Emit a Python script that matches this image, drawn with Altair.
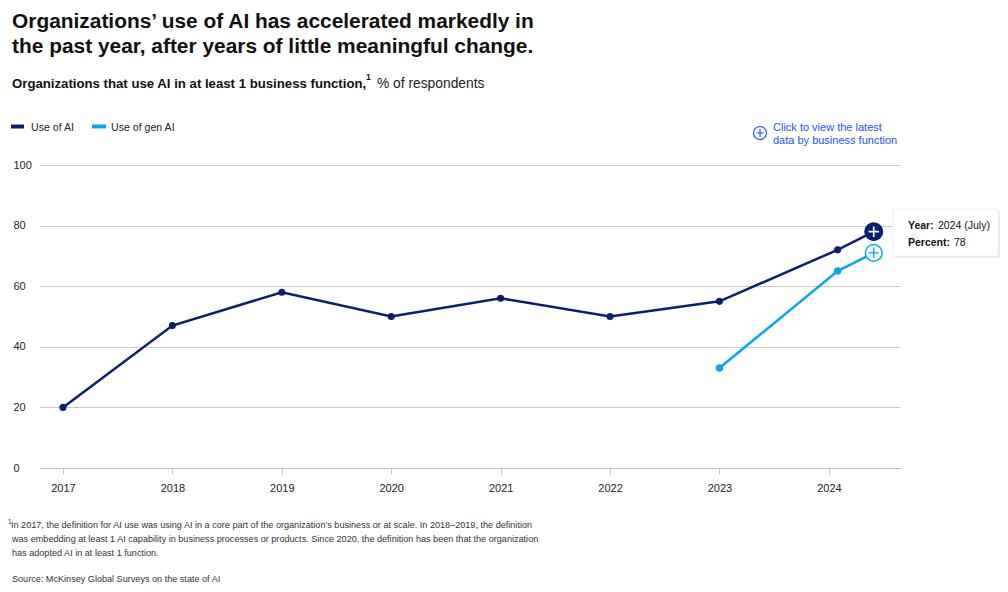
import altair as alt
import pandas as pd

# ---- data ----
years_ai = [2017, 2018, 2019, 2020, 2021, 2022, 2023, 2024.08, 2024.41]
use_ai = [20, 47, 58, 50, 56, 50, 55, 72, 78]
years_gen = [2023, 2024.08, 2024.41]
use_gen = [33, 65, 71]
tick_years = [2017, 2018, 2019, 2020, 2021, 2022, 2023, 2024]
y_ticks = [0, 20, 40, 60, 80, 100]

NAVY = "#0b1f70"
CYAN = "#00a9f4"
LINK = "#2251ff"
FONT = "Liberation Sans"
W, H = 860, 303

df_ai = pd.DataFrame({"year": years_ai, "pct": use_ai, "series": "Use of AI"})
df_gen = pd.DataFrame({"year": years_gen, "pct": use_gen, "series": "Use of gen AI"})

xs = alt.Scale(domain=[2016.79, 2024.65], nice=False, zero=False)
ys = alt.Scale(domain=[0, 100], nice=False)

x_enc = alt.X("year:Q", scale=xs, axis=alt.Axis(
    values=tick_years, format="d", title=None, grid=False,
    tickSize=6, tickColor="#c8c8c8", domainColor="#bdbdbd", domainWidth=1.2,
    labelFont=FONT, labelFontSize=11, labelColor="#222", labelPadding=8))
y_enc = alt.Y("pct:Q", scale=ys, axis=alt.Axis(
    values=y_ticks, title=None, domain=False, ticks=False, tickSize=0,
    gridColor="#c8c8c8", labelAlign="left", labelPadding=27,
    labelFont=FONT, labelFontSize=11, labelColor="#222"))

base_ai = alt.Chart(df_ai)
line_ai = base_ai.mark_line(color=NAVY, strokeWidth=2.5).encode(x=x_enc, y=y_enc)
pts_ai = alt.Chart(df_ai.iloc[:-1]).mark_circle(color=NAVY, size=50, opacity=1).encode(x="year:Q", y="pct:Q")
big_ai = alt.Chart(df_ai.iloc[-1:]).mark_circle(color=NAVY, size=360, opacity=1).encode(x="year:Q", y="pct:Q")
plus_ai = alt.Chart(df_ai.iloc[-1:]).mark_point(
    shape="M-1,0L1,0M0,-1L0,1", filled=False, stroke="white", strokeWidth=1.6, size=110, opacity=1
).encode(x="year:Q", y="pct:Q")

base_gen = alt.Chart(df_gen)
line_gen = base_gen.mark_line(color=CYAN, strokeWidth=2.5).encode(x="year:Q", y="pct:Q")
pts_gen = alt.Chart(df_gen.iloc[:-1]).mark_circle(color=CYAN, size=55, opacity=1).encode(x="year:Q", y="pct:Q")
big_gen = alt.Chart(df_gen.iloc[-1:]).mark_point(
    shape="circle", filled=True, fill="white", stroke=CYAN, strokeWidth=1.5, size=280, opacity=1
).encode(x="year:Q", y="pct:Q")
plus_gen = alt.Chart(df_gen.iloc[-1:]).mark_point(
    shape="M-1,0L1,0M0,-1L0,1", filled=False, stroke=CYAN, strokeWidth=1.4, size=100, opacity=1
).encode(x="year:Q", y="pct:Q")

one = pd.DataFrame({"a": [0]})


def txt(s, x, y, size, weight="normal", color="#111", align="left", font=FONT):
    return alt.Chart(pd.DataFrame({"t": [s]})).mark_text(
        align=align, baseline="alphabetic", font=font, fontSize=size,
        fontWeight=weight, color=color
    ).encode(text="t:N", x=alt.value(x), y=alt.value(y))


def rect(x, x2, y, y2, color, stroke=None):
    kw = {}
    if stroke:
        kw["stroke"] = stroke
        kw["strokeWidth"] = 1
    return alt.Chart(one).mark_rect(color=color, **kw).encode(
        x=alt.value(x), x2=alt.value(x2), y=alt.value(y), y2=alt.value(y2))


OX, OY = 40, 165  # page origin of the plot area

def P(px, py):
    return px - OX, py - OY

layers = []
# title
layers.append(txt("Organizations’ use of AI has accelerated markedly in", *P(12, 28), 20.9, "bold"))
layers.append(txt("the past year, after years of little meaningful change.", *P(12, 53), 20.9, "bold"))
# subtitle
layers.append(txt("Organizations that use AI in at least 1 business function,", *P(12, 88), 13.2, "bold"))
layers.append(txt("1", *P(366, 80), 8.5, "bold"))
layers.append(txt("% of respondents", *P(377, 88), 13.8, "normal", "#222"))
# legend
layers.append(rect(P(11, 0)[0], P(24, 0)[0], P(0, 124.5)[1], P(0, 128.5)[1], NAVY))
layers.append(txt("Use of AI", *P(31, 131), 10.6, "normal", "#222"))
layers.append(rect(P(92, 0)[0], P(106, 0)[0], P(0, 124.5)[1], P(0, 128.5)[1], CYAN))
layers.append(txt("Use of gen AI", *P(111, 131), 10.6, "normal", "#222"))
# link
link_icon = alt.Chart(one).mark_point(shape="circle", filled=False, stroke=LINK, strokeWidth=1.2, size=170, opacity=1).encode(
    x=alt.value(P(760, 0)[0]), y=alt.value(P(0, 133)[1]))
link_plus = alt.Chart(one).mark_point(shape="M-1,0L1,0M0,-1L0,1", filled=False, stroke=LINK, strokeWidth=1.2, size=60, opacity=1).encode(
    x=alt.value(P(760, 0)[0]), y=alt.value(P(0, 133)[1]))
layers += [link_icon, link_plus]
layers.append(txt("Click to view the latest", *P(773, 131), 11, "normal", LINK))
layers.append(txt("data by business function", *P(773, 144), 11, "normal", LINK))
# tooltip
layers.append(rect(P(894, 0)[0], P(1000, 0)[0], P(0, 211)[1], P(0, 258)[1], "#ececec"))
layers.append(rect(P(893, 0)[0], P(998, 0)[0], P(0, 209)[1], P(0, 256)[1], "white", "#f0f0f0"))
pointer = alt.Chart(one).mark_point(shape="triangle-left", filled=True, fill="white", size=60, opacity=1).encode(
    x=alt.value(P(890, 0)[0]), y=alt.value(P(0, 232)[1]))
layers.append(pointer)
layers.append(txt("Year:", *P(908, 229), 10.5, "bold"))
layers.append(txt("2024 (July)", *P(938, 229), 10.5, "normal"))
layers.append(txt("Percent:", *P(908, 246), 10.5, "bold"))
layers.append(txt("78", *P(954, 246), 10.5, "normal"))
# footnote
FN = 9.1
layers.append(txt("1", *P(8, 524), 6.5, "normal", "#333"))
layers.append(txt("In 2017, the definition for AI use was using AI in a core part of the organization’s business or at scale. In 2018–2019, the definition", *P(11, 528), FN, "normal", "#333"))
layers.append(txt("was embedding at least 1 AI capability in business processes or products. Since 2020, the definition has been that the organization", *P(12, 542), FN, "normal", "#333"))
layers.append(txt("has adopted AI in at least 1 function.", *P(12, 556), FN, "normal", "#333"))
layers.append(txt("Source: McKinsey Global Surveys on the state of AI", *P(12, 582), FN, "normal", "#333"))

chart = alt.layer(
    line_ai, line_gen, pts_ai, pts_gen, big_ai, plus_ai, big_gen, plus_gen, *layers
).properties(
    width=W, height=H,
    padding={"left": 32, "top": 157, "right": 100, "bottom": 116},
    autosize="none",
    background="white",
).configure_view(stroke=None)

chart.save("out.html", embed_options={"renderer": "svg", "actions": False})
